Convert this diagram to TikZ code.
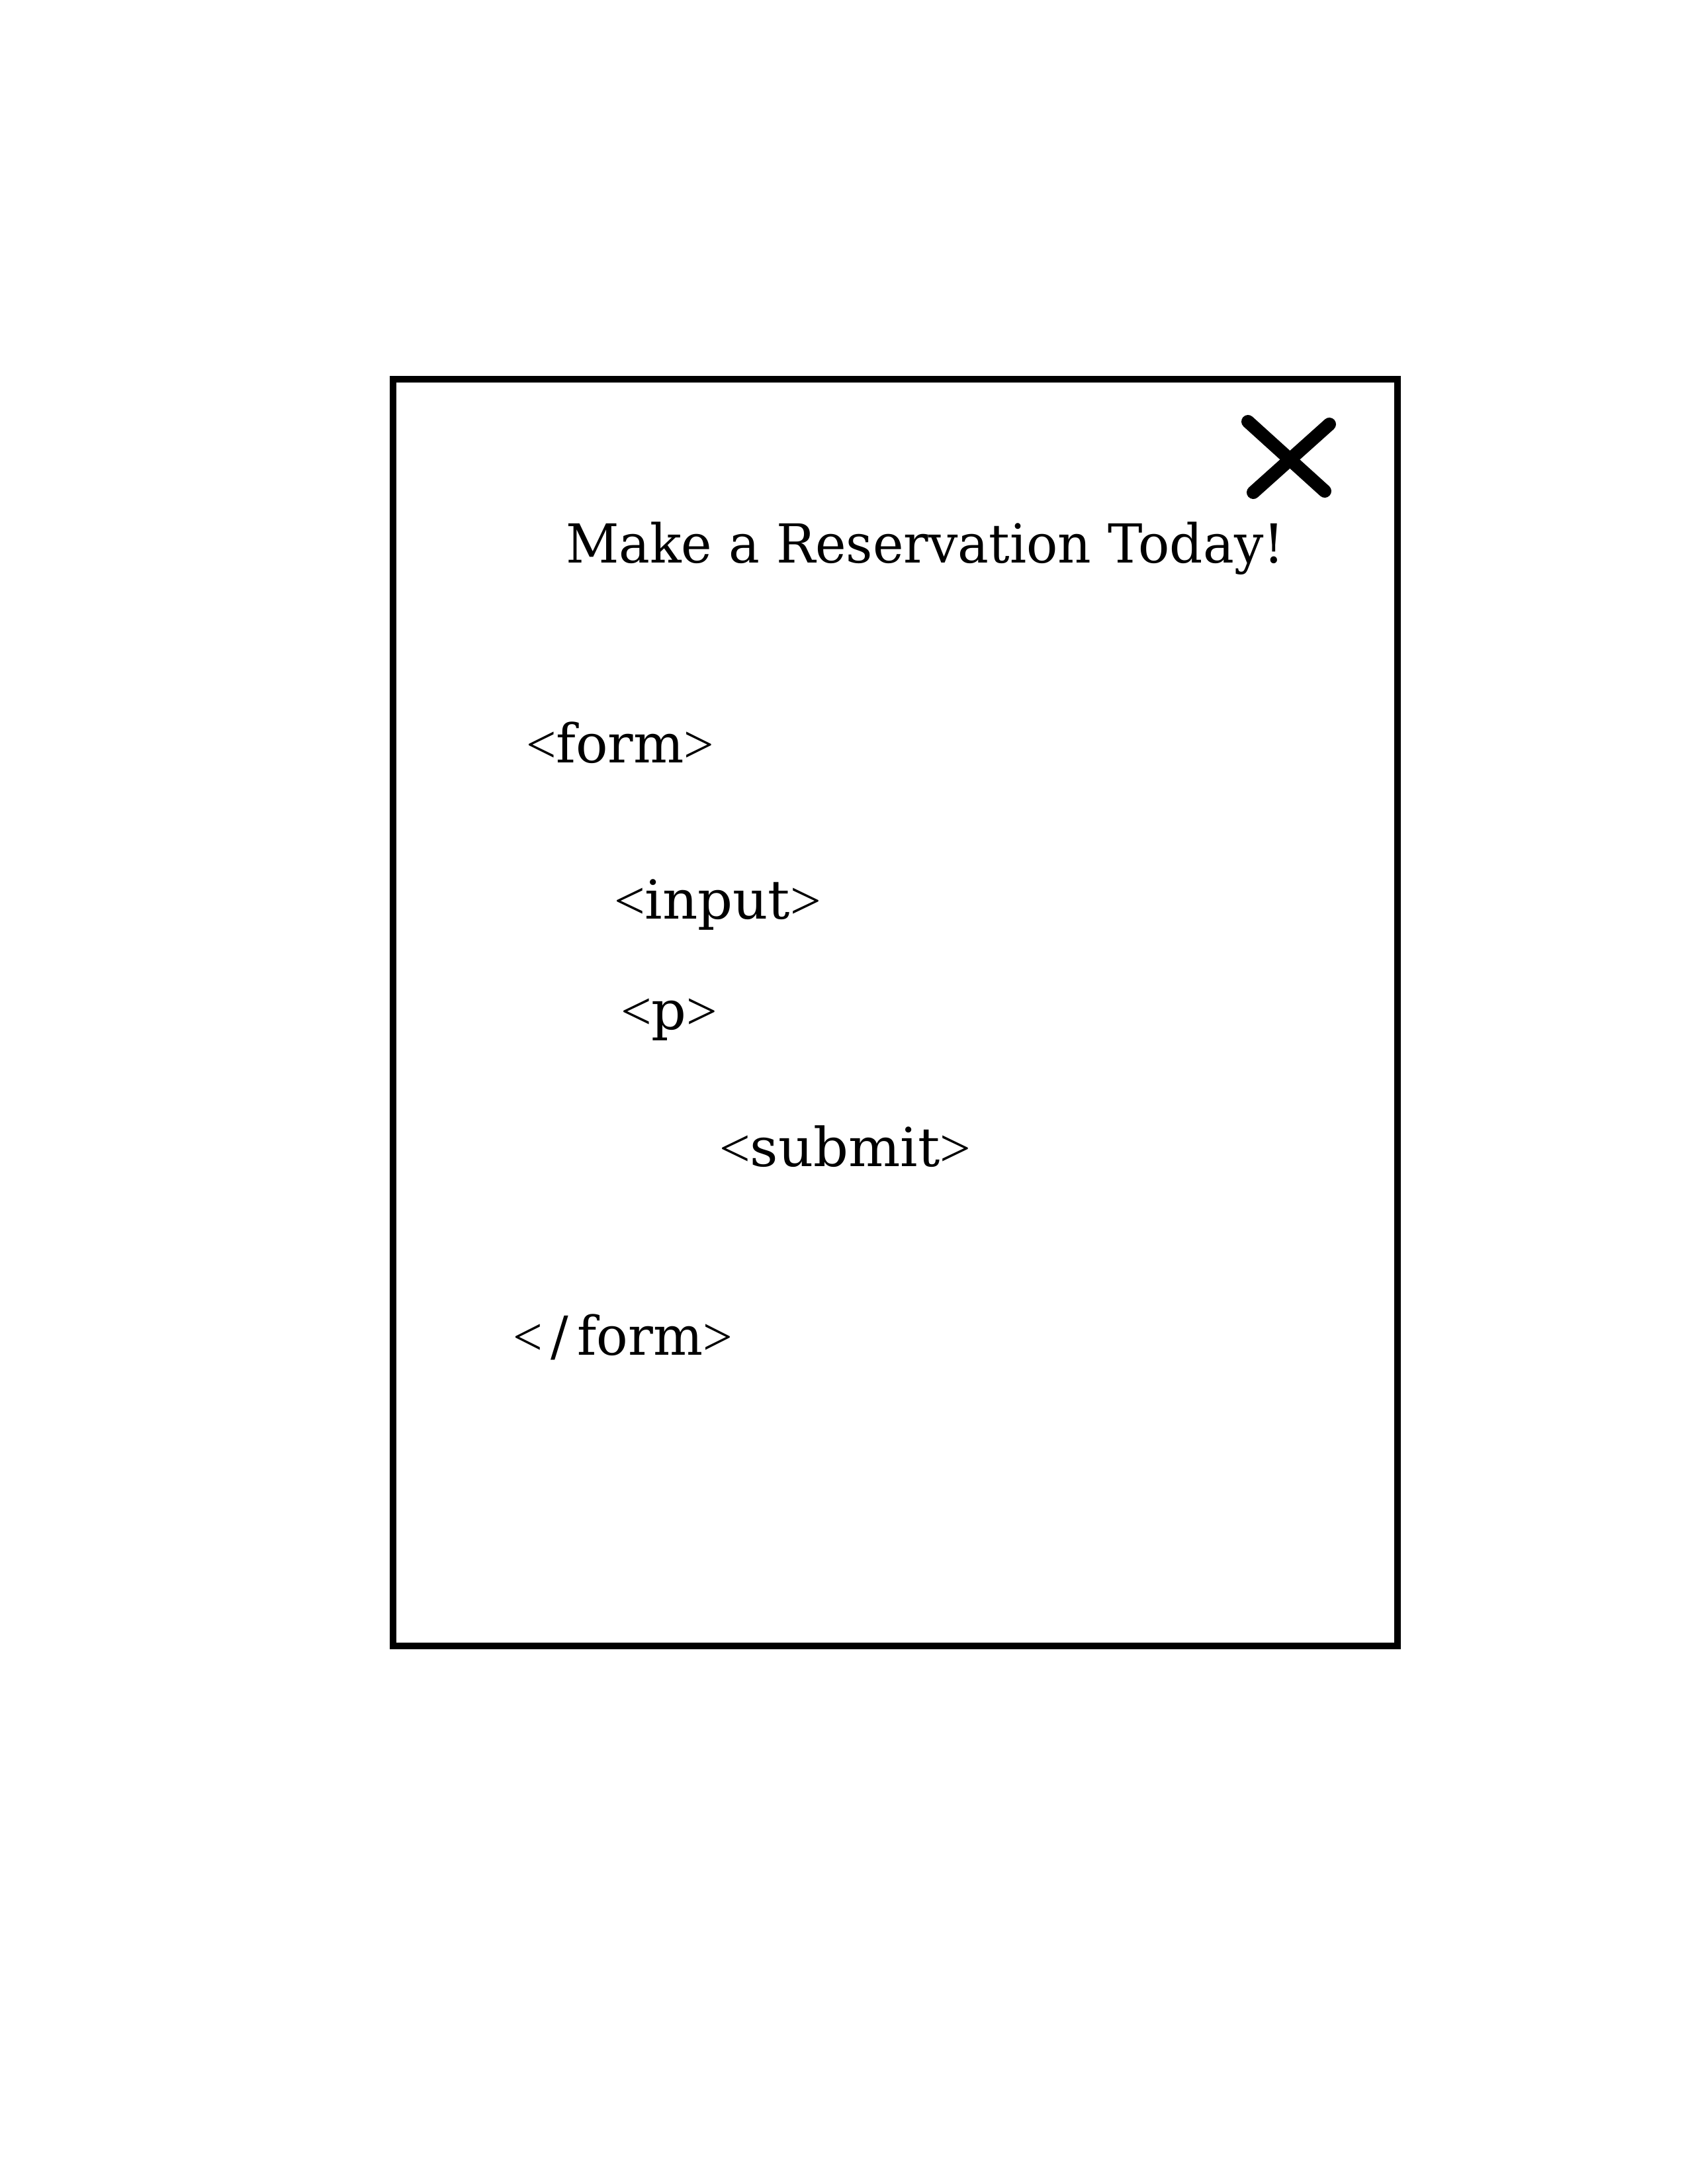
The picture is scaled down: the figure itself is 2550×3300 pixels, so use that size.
\documentclass[tikz,border=0pt]{standalone}
\usepackage{fontspec}
\usepackage{graphicx}
\setmainfont{DejaVu Serif}
\newfontfamily\anglefont{Liberation Serif}
\newlength\pxu
\setlength\pxu{0.24pt}
\newcommand\fitw[2]{\resizebox{#1\pxu}{\height}{#2}}
\newcommand\lt{{\anglefont <}}
\newcommand\gt{{\anglefont >}}
\begin{document}
\begin{tikzpicture}[x=0.24pt,y=-0.24pt,
  frame/.style={line width=2.4pt,line join=miter},
  closemark/.style={line width=4.8pt,line cap=round},
  label/.style={anchor=base west,inner sep=0pt,outer sep=0pt,font=\fontsize{19.5}{23}\selectfont}]
\useasboundingbox[fill=white] (0,0) rectangle (2550,3300);
\draw[frame] (594,573) rectangle (2112,2487);
\coordinate (xa) at (1886,637);
\coordinate (xb) at (2002,742);
\coordinate (xc) at (2009,641);
\coordinate (xd) at (1894,744);
\draw[closemark] (xa) -- (xb);
\draw[closemark] (xc) -- (xd);
\node[label] (title) at (855,850) {\fitw{1086}{Make a Reservation Today!}};
\node[label] (formopen) at (795,1152) {\fitw{284}{\lt form\gt}};
\node[label] (input) at (928,1388) {\fitw{313}{\lt input\gt}};
\node[label] (para) at (938,1555) {\fitw{146}{\lt p\gt}};
\node[label] (submit) at (1087,1762) {\fitw{380}{\lt submit\gt}};
\node[label] (formclose) at (775,2047) {\fitw{332}{\lt\,/\,form\gt}};
\end{tikzpicture}
\end{document}
